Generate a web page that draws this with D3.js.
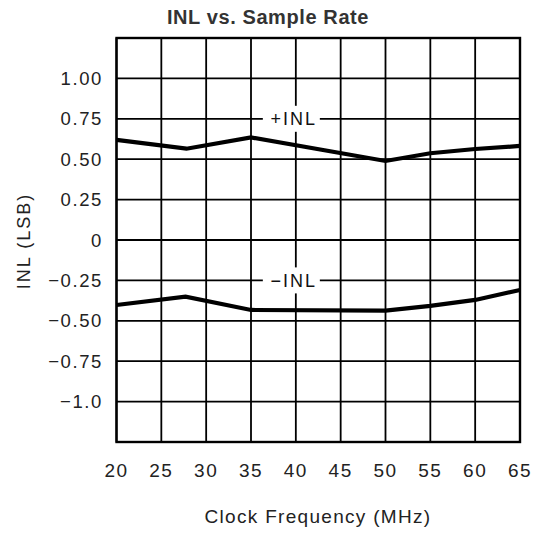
<!DOCTYPE html>
<html>
<head>
<meta charset="utf-8">
<script src="https://cdn.jsdelivr.net/npm/d3@7/dist/d3.min.js"></script>
<style>
  html, body { margin: 0; padding: 0; background: #fff; }
  svg { display: block; }
  text { font-family: "Liberation Sans", Arial, Helvetica, sans-serif; }
</style>
</head>
<body>
<svg id="chart" width="539" height="533"></svg>
<script>
// INL vs. clock frequency, positive and negative limits
const freqTicks = [20, 25, 30, 35, 40, 45, 50, 55, 60, 65];
const inlTicks = [1.0, 0.75, 0.5, 0.25, 0, -0.25, -0.5, -0.75, -1.0];
const inlTickLabels = ["1.00", "0.75", "0.50", "0.25", "0", "\u22120.25", "\u22120.50", "\u22120.75", "\u22121.0"];
const gridY = [-1.25, -1.0, -0.75, -0.5, -0.25, 0, 0.25, 0.5, 0.75, 1.0, 1.25];

const posFreq = [20, 27.8, 35, 50, 55, 60, 65];
const posInl  = [0.62, 0.565, 0.635, 0.489, 0.537, 0.563, 0.582];
const negFreq = [20, 27.7, 35, 50, 55, 60, 65];
const negInl  = [-0.402, -0.351, -0.433, -0.437, -0.408, -0.371, -0.309];

const curveLabels = [
  { text: "+INL", f: 40, v: 0.75 },
  { text: "\u2212INL", f: 40, v: -0.25 }
];

const svg = d3.select("#chart");
const plot = { left: 116.5, right: 520, top: 38, bottom: 442 };

const x = d3.scaleLinear().domain([20, 65]).range([plot.left, plot.right]);
const y = d3.scaleLinear().domain([-1.25, 1.25]).range([plot.bottom, plot.top]);

// grid
const grid = svg.append("g").attr("stroke", "#000").attr("stroke-width", 1.8);
grid.selectAll("line.v").data(freqTicks).join("line")
  .attr("class", "v")
  .attr("x1", d => x(d)).attr("x2", d => x(d))
  .attr("y1", plot.top).attr("y2", plot.bottom);
grid.selectAll("line.h").data(gridY).join("line")
  .attr("class", "h")
  .attr("x1", plot.left).attr("x2", plot.right)
  .attr("y1", d => y(d)).attr("y2", d => y(d));

// frame
svg.append("rect")
  .attr("x", plot.left).attr("y", plot.top)
  .attr("width", plot.right - plot.left).attr("height", plot.bottom - plot.top)
  .attr("fill", "none").attr("stroke", "#000").attr("stroke-width", 2.4);

// curves
const line = d3.line().x(d => x(d[0])).y(d => y(d[1]));
const series = [d3.zip(posFreq, posInl), d3.zip(negFreq, negInl)];
svg.append("g").selectAll("path").data(series).join("path")
  .attr("d", line)
  .attr("fill", "none")
  .attr("stroke", "#000")
  .attr("stroke-width", 4.2)
  .attr("stroke-linejoin", "miter");

// curve labels on a white patch
const lab = svg.append("g").selectAll("g").data(curveLabels).join("g")
  .attr("transform", d => `translate(${x(d.f)},${y(d.v)})`);
lab.append("rect")
  .attr("x", -33).attr("y", -13).attr("width", 57).attr("height", 26)
  .attr("fill", "#fff");
lab.append("text")
  .attr("x", -2).attr("y", 6.5)
  .attr("text-anchor", "middle")
  .attr("font-size", 18)
  .attr("letter-spacing", 2)
  .attr("fill", "#111")
  .text(d => d.text);

// y tick labels
svg.append("g").selectAll("text").data(inlTicks).join("text")
  .attr("x", 103)
  .attr("y", d => y(d) + 6.5)
  .attr("text-anchor", "end")
  .attr("font-size", 18.5)
  .attr("letter-spacing", 1.6)
  .attr("fill", "#222")
  .text((d, i) => inlTickLabels[i]);

// x tick labels
svg.append("g").selectAll("text").data(freqTicks).join("text")
  .attr("x", d => x(d))
  .attr("y", 477)
  .attr("text-anchor", "middle")
  .attr("font-size", 19)
  .attr("letter-spacing", 1.5)
  .attr("fill", "#222")
  .text(d => d);

// axis titles
svg.append("text")
  .attr("x", 318).attr("y", 523)
  .attr("text-anchor", "middle")
  .attr("font-size", 19)
  .attr("letter-spacing", 1.3)
  .attr("fill", "#222")
  .text("Clock Frequency (MHz)");

svg.append("text")
  .attr("transform", "translate(30,241) rotate(-90)")
  .attr("text-anchor", "middle")
  .attr("font-size", 18)
  .attr("letter-spacing", 2)
  .attr("fill", "#222")
  .text("INL (LSB)");

// title
svg.append("text")
  .attr("x", 268).attr("y", 24)
  .attr("text-anchor", "middle")
  .attr("font-size", 20)
  .attr("font-weight", "bold")
  .attr("letter-spacing", 0.6)
  .attr("fill", "#333")
  .text("INL vs. Sample Rate");
</script>
</body>
</html>
